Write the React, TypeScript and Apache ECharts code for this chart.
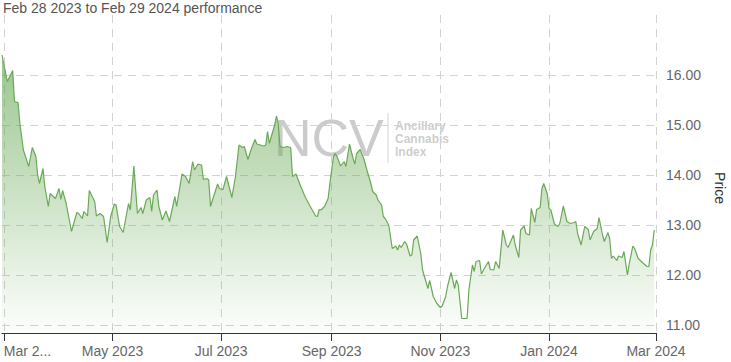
import React, { useEffect, useRef } from "react";
import * as echarts from "echarts";

const titleText = "Feb 28 2023 to Feb 29 2024 performance";
const yAxisName = "Price";

const dates = [
  "2023-02-28","2023-03-03","2023-03-06","2023-03-07","2023-03-09","2023-03-10","2023-03-12","2023-03-15","2023-03-17","2023-03-19",
  "2023-03-20","2023-03-21","2023-03-23","2023-03-24","2023-03-26","2023-03-27","2023-03-30","2023-04-01","2023-04-02","2023-04-03",
  "2023-04-05","2023-04-08","2023-04-11","2023-04-12","2023-04-14","2023-04-15","2023-04-17","2023-04-18","2023-04-21","2023-04-22",
  "2023-04-24","2023-04-26","2023-04-28","2023-04-30","2023-05-02","2023-05-03","2023-05-05","2023-05-07","2023-05-10","2023-05-11",
  "2023-05-13","2023-05-15","2023-05-17","2023-05-18","2023-05-20","2023-05-22","2023-05-23","2023-05-24","2023-05-26","2023-05-27",
  "2023-05-29","2023-05-31","2023-06-02","2023-06-05","2023-06-06","2023-06-09","2023-06-11","2023-06-13","2023-06-15","2023-06-16",
  "2023-06-18","2023-06-20","2023-06-21","2023-06-23","2023-06-24","2023-06-25","2023-06-27","2023-06-29","2023-06-30","2023-07-02",
  "2023-07-04","2023-07-07","2023-07-09","2023-07-11","2023-07-13","2023-07-14","2023-07-16","2023-07-18","2023-07-20","2023-07-21",
  "2023-07-23","2023-07-25","2023-07-26","2023-07-27","2023-07-28","2023-07-31","2023-08-01","2023-08-02","2023-08-03","2023-08-05",
  "2023-08-07","2023-08-09","2023-08-10","2023-08-12","2023-08-14","2023-08-17","2023-08-20","2023-08-23","2023-08-24","2023-08-25",
  "2023-08-26","2023-08-28","2023-08-30","2023-08-31","2023-09-02","2023-09-03","2023-09-04","2023-09-06","2023-09-08","2023-09-09",
  "2023-09-11","2023-09-13","2023-09-14","2023-09-15","2023-09-17","2023-09-19","2023-09-21","2023-09-23","2023-09-24","2023-09-26",
  "2023-09-27","2023-09-29","2023-09-30","2023-10-01","2023-10-03","2023-10-04","2023-10-05","2023-10-07","2023-10-08","2023-10-09",
  "2023-10-10","2023-10-12","2023-10-13","2023-10-15","2023-10-16","2023-10-17","2023-10-19","2023-10-21","2023-10-22","2023-10-25",
  "2023-10-26","2023-10-28","2023-10-30","2023-11-01","2023-11-02","2023-11-04","2023-11-05","2023-11-07","2023-11-09","2023-11-10",
  "2023-11-11","2023-11-12","2023-11-13","2023-11-16","2023-11-17","2023-11-19","2023-11-20","2023-11-21","2023-11-23","2023-11-24",
  "2023-11-26","2023-11-28","2023-11-29","2023-12-01","2023-12-02","2023-12-04","2023-12-06","2023-12-08","2023-12-09","2023-12-12",
  "2023-12-13","2023-12-15","2023-12-16","2023-12-18","2023-12-19","2023-12-21","2023-12-22","2023-12-24","2023-12-25","2023-12-27",
  "2023-12-28","2023-12-29","2023-12-31","2024-01-01","2024-01-02","2024-01-04","2024-01-06","2024-01-07","2024-01-09","2024-01-11",
  "2024-01-13","2024-01-15","2024-01-16","2024-01-17","2024-01-19","2024-01-21","2024-01-23","2024-01-24","2024-01-26","2024-01-28",
  "2024-01-29","2024-01-31","2024-02-01","2024-02-03","2024-02-04","2024-02-05","2024-02-06","2024-02-08","2024-02-09","2024-02-11",
  "2024-02-12","2024-02-14","2024-02-15","2024-02-17","2024-02-18","2024-02-20","2024-02-23","2024-02-25","2024-02-26","2024-02-27",
  "2024-02-28","2024-02-29"
];

const prices = [
  16.40,15.87,16.09,15.47,15.45,15.04,14.50,14.17,14.55,14.37,
  14.00,13.83,14.13,13.77,13.37,13.63,13.53,13.73,13.51,13.69,
  13.43,12.87,13.25,13.23,13.13,13.27,13.18,13.69,13.47,13.18,
  13.23,13.17,12.65,13.17,13.42,13.40,12.97,12.85,13.43,13.30,
  14.18,13.23,13.35,13.23,13.50,13.55,13.27,13.60,13.70,13.37,
  13.10,13.28,13.07,13.57,13.37,14.02,13.97,13.83,14.27,14.10,
  14.22,14.20,13.91,13.93,13.90,13.37,13.60,13.82,13.73,13.71,
  13.97,13.55,13.97,14.60,14.55,14.57,14.31,14.53,14.71,14.62,
  14.60,14.58,14.60,14.87,14.63,15.00,15.18,15.03,14.57,14.55,
  14.57,14.55,13.97,14.02,13.83,13.57,13.37,13.18,13.17,13.31,
  13.30,13.37,13.53,13.83,14.37,14.43,14.37,14.18,14.27,14.17,
  14.62,14.33,14.22,14.43,14.51,14.33,14.07,13.83,13.67,13.60,
  13.50,13.40,13.17,13.13,13.00,12.77,12.53,12.58,12.50,12.60,
  12.55,12.67,12.62,12.38,12.40,12.70,12.78,12.43,12.10,11.73,
  11.89,11.57,11.43,11.35,11.38,11.57,11.77,12.05,11.73,11.90,
  11.80,11.47,11.13,11.13,11.70,12.20,12.07,12.27,12.29,12.02,
  12.15,12.27,12.11,12.10,12.27,12.13,12.90,12.60,12.55,12.80,
  12.60,12.35,12.90,12.98,12.83,12.80,13.33,13.05,13.31,13.35,
  13.73,13.83,13.62,13.33,13.30,13.02,12.97,13.03,13.38,13.07,
  13.03,13.05,13.07,12.83,12.60,12.97,12.91,12.70,12.87,12.93,
  13.15,12.80,12.67,12.85,12.73,12.33,12.38,12.29,12.38,12.35,
  12.47,12.00,12.23,12.58,12.53,12.33,12.23,12.17,12.17,12.50,
  12.60,12.90
];

const xTickDates = ["2023-03-01","2023-05-01","2023-07-01","2023-09-01","2023-11-01","2024-01-01","2024-03-01"];
const xTickLabels = ["Mar 2...","May 2023","Jul 2023","Sep 2023","Nov 2023","Jan 2024","Mar 2024"];
const xRange = ["2023-02-28","2024-03-01"];
const yTicks = [11, 12, 13, 14, 15, 16];
const yRange = [10.84, 17.2];

const FONT = "'Liberation Sans', Arial, sans-serif";

function toTs(s: string): number {
  const [y, m, d] = s.split("-").map(Number);
  return new Date(y, m - 1, d).getTime();
}

export default function App() {
  const ref = useRef<HTMLDivElement>(null);
  useEffect(() => {
    document.body.style.margin = "0";
    if (!ref.current) return;
    const chart = echarts.init(ref.current, null, { renderer: "svg" });
    const xTicks = xTickDates.map(toTs);
    const gridLine = { show: true, lineStyle: { color: "#d2d2d2", width: 1, type: [8, 6] as any } };
    chart.setOption({
      animation: false,
      grid: { left: 2, right: 75, top: 15, bottom: 29, containLabel: false, outerBoundsMode: "none" },
      xAxis: {
        type: "value",
        min: toTs(xRange[0]),
        max: toTs(xRange[1]),
        axisLine: { show: true, lineStyle: { color: "#333", width: 1 } },
        axisTick: { show: true, length: 8, customValues: xTicks, lineStyle: { color: "#333" } },
        axisLabel: {
          customValues: xTicks,
          formatter: (v: number) => {
            const i = xTicks.indexOf(v);
            return i >= 0 ? xTickLabels[i] : "";
          },
          color: "#666",
          fontSize: 14,
          fontFamily: FONT,
          margin: 11,
          hideOverlap: false,
          showMinLabel: true,
          showMaxLabel: true,
          alignMinLabel: "left",
        },
        splitLine: gridLine,
      },
      yAxis: {
        type: "value",
        position: "right",
        min: yRange[0],
        max: yRange[1],
        axisLine: { show: false },
        axisTick: { show: false, customValues: yTicks },
        axisLabel: {
          customValues: yTicks,
          formatter: (v: number) => v.toFixed(2),
          color: "#666",
          fontSize: 14,
          fontFamily: FONT,
          margin: 10,
          align: "left",
        },
        splitLine: gridLine,
      },
      graphic: [
        {
          type: "text",
          x: 3,
          y: 8,
          style: { text: titleText, fill: "#555", font: `14px ${FONT}`, verticalAlign: "middle", align: "left" },
        },
        {
          type: "text",
          x: 720,
          y: 188,
          rotation: -Math.PI / 2,
          style: { text: yAxisName, fill: "#333", font: `14px ${FONT}`, verticalAlign: "middle", align: "center" },
        },
        {
          type: "group",
          z: 100,
          children: [
            {
              type: "text",
              x: 274,
              y: 138,
              style: { text: "NCV", fill: "rgba(110,110,110,0.36)", font: `52px ${FONT}`, verticalAlign: "middle", align: "left" },
            },
            {
              type: "line",
              shape: { x1: 388, y1: 113, x2: 388, y2: 163 },
              style: { stroke: "rgba(110,110,110,0.3)", lineWidth: 1 },
            },
            {
              type: "text",
              x: 395,
              y: 139,
              style: {
                text: "Ancillary\nCannabis\nIndex",
                fill: "rgba(110,110,110,0.36)",
                font: `bold 12px ${FONT}`,
                lineHeight: 13,
                verticalAlign: "middle",
                align: "left",
              },
            },
          ],
        },
      ],
      series: [
        {
          type: "line",
          data: dates.map((d, i) => [toTs(d), prices[i]]),
          showSymbol: false,
          symbol: "none",
          lineStyle: { color: "#6aa957", width: 1.2 },
          areaStyle: {
            origin: "start",
            color: new echarts.graphic.LinearGradient(0, 0, 0, 1, [
              { offset: 0, color: "rgba(95,165,75,0.9)" },
              { offset: 1, color: "rgba(95,165,75,0.02)" },
            ]),
          },
        },
      ],
    });
    return () => chart.dispose();
  }, []);
  return <div ref={ref} style={{ width: 731, height: 362 }} />;
}
